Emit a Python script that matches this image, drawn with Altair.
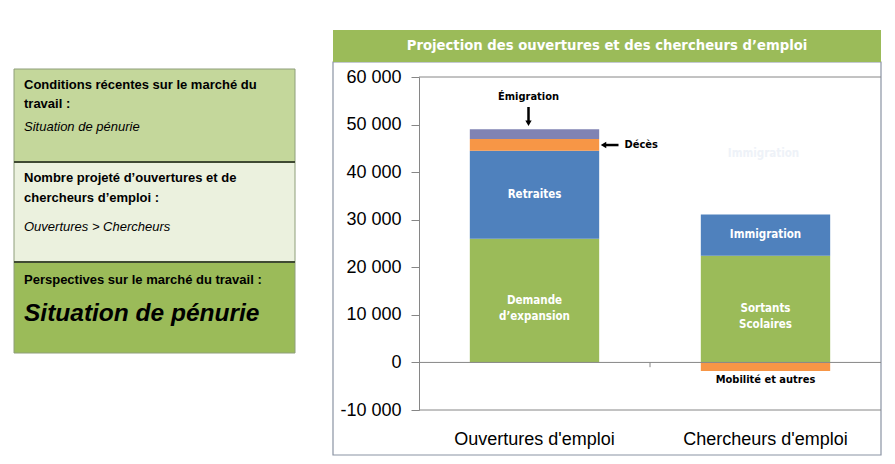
import altair as alt
import pandas as pd

# ---------------- data ----------------
categories = ["Ouvertures d'emploi", "Chercheurs d'emploi"]
segments = ["Demande d'expansion", "Retraites", "Décès", "Émigration",
            "Sortants scolaires", "Immigration", "Mobilité et autres"]
seg_category = [categories[0]] * 4 + [categories[1]] * 3
seg_values = [26000, 18500, 2450, 2050, 22400, 8700, -1800]
seg_order = [0, 1, 2, 3, 0, 1, 0]
seg_colors = ["#9BBB59", "#4F81BD", "#F79646", "#8083B3",
              "#9BBB59", "#4F81BD", "#F79646"]
inner_labels = ["Demande\nd’expansion", "Retraites", "", "",
                "Sortants\nScolaires", "Immigration", ""]
y_ticks = [-10000, 0, 10000, 20000, 30000, 40000, 50000, 60000]

chart_title = "Projection des ouvertures et des chercheurs d’emploi"

df = pd.DataFrame({"category": seg_category, "segment": segments,
                   "value": seg_values, "order": seg_order,
                   "label": inner_labels})
# label at the middle of each positive segment
mids = []
cum = {}
for c, v in zip(seg_category, seg_values):
    base = cum.get(c, 0) if v >= 0 else 0
    mids.append(base + v / 2)
    if v >= 0:
        cum[c] = base + v
df["mid"] = mids

W, H = 462, 333
OX, OY = 419, 77  # plot origin on the page
NARROW = "'DejaVu Sans Condensed', 'Liberation Sans Narrow', Roboto, sans-serif"

XS = alt.Scale(domain=categories, paddingInner=0.44, paddingOuter=0.22)
YS = alt.Scale(domain=[-10000, 60000], nice=False, zero=False)
X_AXIS = alt.Axis(labelAngle=0, ticks=False, domain=False, labelFontSize=18,
                  labelFont="Liberation Sans", labelColor="black",
                  labelPadding=20, title=None, zindex=1)
Y_AXIS = alt.Axis(values=y_ticks, grid=False, labelFontSize=18,
                  labelFont="Liberation Sans", labelColor="black",
                  labelExpr="replace(replace(format(datum.value, ','), ',', ' '), '\u2212', '-')",
                  tickSize=8, tickColor="#868686",
                  domainColor="#868686", labelPadding=10, title=None, zindex=1)


def xf(field="category"):
    return alt.X(f"{field}:N", sort=categories, scale=XS, axis=X_AXIS, title=None)


def yf(field):
    return alt.Y(f"{field}:Q", scale=YS, axis=Y_AXIS, title=None)


one = pd.DataFrame({"a": [0]})


def rect(x1, x2, y1, y2, fill, stroke=None, sw=1):
    kw = dict(fill=fill)
    if stroke:
        kw.update(stroke=stroke, strokeWidth=sw)
    return alt.Chart(one).mark_rect(**kw).encode(
        x=alt.value(x1 - OX), x2=alt.value(x2 - OX),
        y=alt.value(y1 - OY), y2=alt.value(y2 - OY))


def hline(x1, x2, y, color, sw=1.5):
    return alt.Chart(one).mark_rule(color=color, strokeWidth=sw).encode(
        x=alt.value(x1 - OX), x2=alt.value(x2 - OX), y=alt.value(y - OY))


def txt(s, x, y, size, weight="normal", style="normal", color="black",
        font="Liberation Sans", align="left"):
    return alt.Chart(one).mark_text(
        text=s, fontSize=size, fontWeight=weight, fontStyle=style,
        color=color, font=font, align=align, baseline="middle").encode(
        x=alt.value(x - OX), y=alt.value(y - OY))


layers = []
# chart frame and title bar
layers.append(rect(333, 881, 62, 455, "white", "#8A93A3", 1.2))
layers.append(rect(333, 881, 30, 62, "#9BBB59"))
layers.append(txt(chart_title, 607, 46, 14.7, "bold", color="white",
                  font=NARROW, align="center"))

# left panel
layers.append(rect(14, 295, 69, 162, "#C4D79B", "#8E9E7A", 1))
layers.append(rect(14, 295, 162, 262, "#EBF1DE", "#8E9E7A", 1))
layers.append(rect(14, 295, 262, 353, "#9BBB59", "#8E9E7A", 1))
layers.append(hline(14, 295, 162, "#3F4A33", 2))
layers.append(hline(14, 295, 262, "#3F4A33", 2))
layers.append(txt("Conditions récentes sur le marché du", 24, 85, 13, "bold"))
layers.append(txt("travail :", 24, 104, 13, "bold"))
layers.append(txt("Situation de pénurie", 24, 127, 13, style="italic"))
layers.append(txt("Nombre projeté d’ouvertures et de", 24, 178, 13, "bold"))
layers.append(txt("chercheurs d’emploi :", 24, 198, 13, "bold"))
layers.append(txt("Ouvertures > Chercheurs", 24, 227, 13, style="italic"))
layers.append(txt("Perspectives sur le marché du travail :", 24, 280, 13, "bold"))
layers.append(txt("Situation de pénurie", 24, 314, 24.5, "bold", "italic"))

# bars
bars = alt.Chart(df).mark_bar().encode(
    x=xf(),
    y=alt.Y("value:Q", stack="zero", scale=YS, axis=Y_AXIS, title=None),
    order=alt.Order("order:Q"),
    color=alt.Color("segment:N", scale=alt.Scale(domain=segments, range=seg_colors),
                    legend=None),
)
layers.append(bars)

# horizontal reference lines (top, zero, bottom)
ref = pd.DataFrame({"v": [60000, 0, -10000]})
layers.append(alt.Chart(ref).mark_rule(color="#868686", strokeWidth=1).encode(
    y=yf("v"), x=alt.value(0), x2=alt.value(W)))
# category separator tick
sep = pd.DataFrame({"a": [0], "b": [-1000]})
layers.append(alt.Chart(sep).mark_rule(color="#868686").encode(
    x=alt.value(W / 2), y=yf("a"), y2="b:Q"))

# labels inside the bars
layers.append(alt.Chart(df[df["label"] != ""]).mark_text(
    color="white", fontWeight="bold", fontSize=11.5, lineHeight=16,
    font=NARROW, lineBreak="\n", baseline="middle").encode(
    x=xf(), y=yf("mid"), text="label:N"))

# faint ghost label
ghost = pd.DataFrame({"category": [categories[1]], "v": [43800], "t": ["Immigration"]})
layers.append(alt.Chart(ghost).mark_text(
    color="#EEF2F8", fontWeight="bold", fontSize=11.5,
    font=NARROW, xOffset=-2).encode(x=xf(), y=yf("v"), text="t:N"))

# outside annotations
ann = pd.DataFrame({
    "category": [categories[0], categories[0], categories[1]],
    "value": [55900, 45700, -3600],
    "text": ["Émigration", "Décès", "Mobilité et autres"],
    "dx": [-6, 90, 0],
})
for i, row in ann.iterrows():
    layers.append(alt.Chart(ann.iloc[[i]]).mark_text(
        fontWeight="bold", fontSize=11, font=NARROW,
        color="black", baseline="middle",
        align="left" if row["dx"] > 30 else "center",
        xOffset=int(row["dx"])).encode(
        x=xf(), y=yf("value"), text="text:N"))

# arrows
arrow_v = pd.DataFrame({"category": [categories[0]], "y1": [53700], "y2": [50300]})
layers.append(alt.Chart(arrow_v).mark_rule(color="black", strokeWidth=2.5,
                                            xOffset=-6).encode(
    x=xf(), y=yf("y1"), y2="y2:Q"))
layers.append(alt.Chart(arrow_v).mark_point(shape="triangle-down", filled=True,
                                             color="black", size=40, opacity=1,
                                             xOffset=-6).encode(
    x=xf(), y=yf("y2")))
arrow_h = pd.DataFrame({"category": [categories[0]], "v": [45700]})
layers.append(alt.Chart(arrow_h).mark_rule(color="black", strokeWidth=2.5,
                                            xOffset=71, x2Offset=84).encode(
    x=xf(), x2=alt.X2("category:N"), y=yf("v")))
layers.append(alt.Chart(arrow_h).mark_point(shape="triangle-left", filled=True,
                                             color="black", size=40, opacity=1,
                                             xOffset=69).encode(
    x=xf(), y=yf("v")))

chart = alt.layer(*layers).properties(
    width=W, height=H,
    autosize=alt.AutoSizeParams(type="none"),
    padding={"left": OX, "top": OY, "right": 895 - OX - W, "bottom": 464 - OY - H},
    background="white",
).configure_view(stroke=None)

chart.save("out.html", embed_options={"renderer": "svg", "actions": False})
